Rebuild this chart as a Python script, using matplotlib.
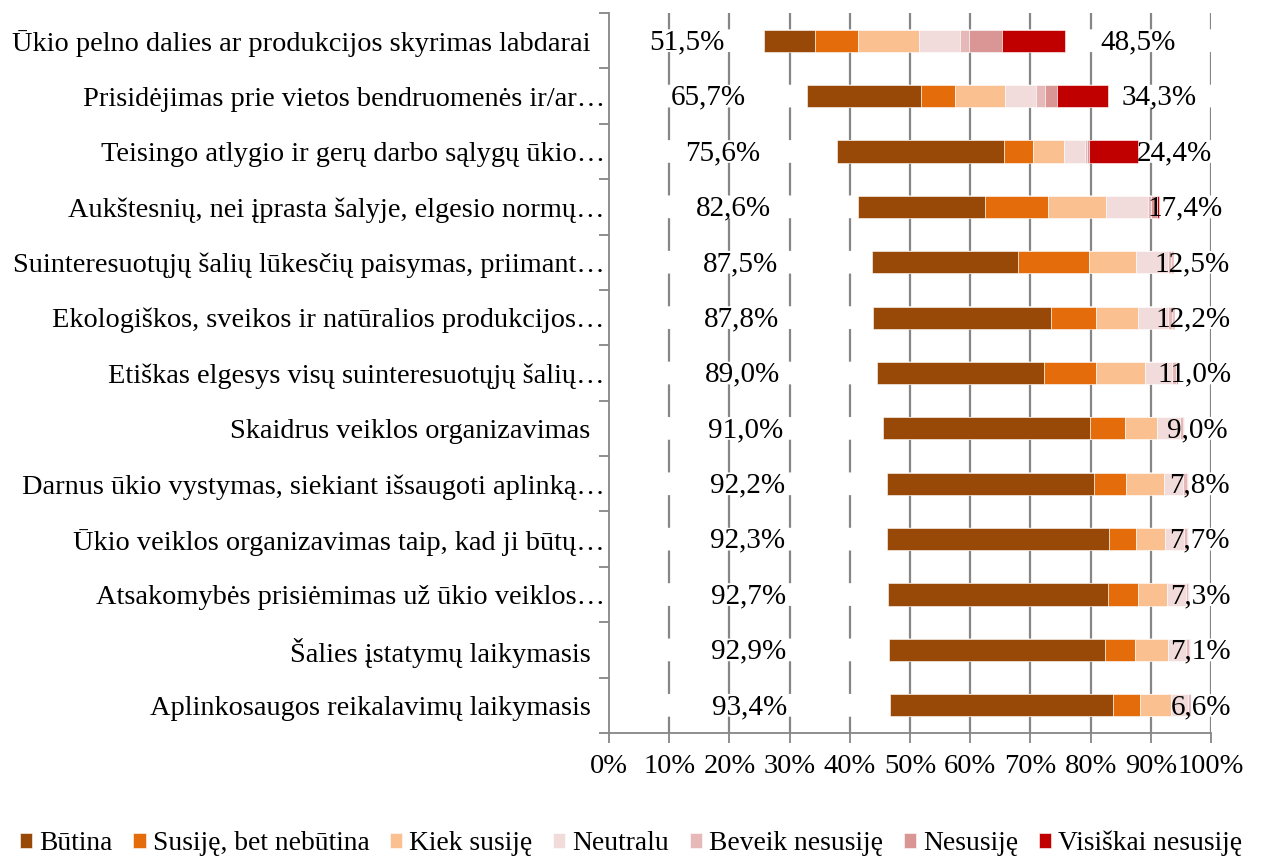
import numpy as np
import matplotlib.pyplot as plt

plt.rcParams['font.family'] = ['Liberation Serif', 'DejaVu Serif']
plt.rcParams['lines.scale_dashes'] = False

categories = [
    "Ūkio pelno dalies ar produkcijos skyrimas labdarai  ",
    "Prisidėjimas prie vietos bendruomenės ir/ar…",
    "Teisingo atlygio ir gerų darbo sąlygų ūkio…",
    "Aukštesnių, nei įprasta šalyje, elgesio normų…",
    "Suinteresuotųjų šalių lūkesčių paisymas, priimant…",
    "Ekologiškos, sveikos ir natūralios produkcijos…",
    "Etiškas elgesys visų suinteresuotųjų šalių…",
    "Skaidrus veiklos organizavimas  ",
    "Darnus ūkio vystymas, siekiant išsaugoti aplinką…",
    "Ūkio veiklos organizavimas taip, kad ji būtų…",
    "Atsakomybės prisiėmimas už ūkio veiklos…",
    "Šalies įstatymų laikymasis  ",
    "Aplinkosaugos reikalavimų laikymasis  ",
]

series_names = ["Būtina", "Susiję, bet nebūtina", "Kiek susiję", "Neutralu",
                "Beveik nesusiję", "Nesusiję", "Visiškai nesusiję"]
colors = ["#984807", "#E46C0A", "#FAC090", "#F2DCDB", "#E6B9B8", "#D99694", "#C00000"]

butina   = [17.0, 38.0, 55.6, 42.4, 48.5, 59.1, 55.5, 68.7, 68.8, 73.8, 73.1, 71.9, 74.0]
susije   = [14.2, 11.4,  9.7, 20.8, 23.6, 15.0, 17.2, 11.7, 10.9,  8.9,  9.9,  9.8,  8.9]
kiek     = [20.3, 16.3, 10.3, 19.4, 15.4, 13.7, 16.3, 10.6, 12.5,  9.6,  9.7, 11.2, 10.5]
neutralu = [13.5, 10.6,  6.9, 14.0, 10.6, 10.2,  9.1,  7.8,  6.4,  6.5,  6.4,  5.8,  5.5]
beveik   = [ 3.2,  2.9,  0.7,  0.9,  1.1,  1.1,  1.4,  1.0,  1.2,  1.0,  0.7,  1.0,  0.9]
nesusije = [10.8,  3.8,  0.7,  2.0,  0.5,  0.4,  0.5,  0.2,  0.2,  0.2,  0.2,  0.3,  0.2]
visiskai = [21.0, 17.0, 16.1,  0.5,  0.3,  0.5,  0.0,  0.0,  0.0,  0.0,  0.0,  0.0,  0.0]

left_pct  = [51.5, 65.7, 75.6, 82.6, 87.5, 87.8, 89.0, 91.0, 92.2, 92.3, 92.7, 92.9, 93.4]
right_pct = [48.5, 34.3, 24.4, 17.4, 12.5, 12.2, 11.0, 9.0, 7.8, 7.7, 7.3, 7.1, 6.6]

series = [butina, susije, kiek, neutralu, beveik, nesusije, visiskai]

# 100% stacked: invisible offset (= left share) + answers + invisible tail (= right share)
left_arr = np.array(left_pct)
right_arr = np.array(right_pct)
total = left_arr + 100 + right_arr
scale = 100.0 / total

n = len(categories)
y = np.arange(n)

fig = plt.figure(figsize=(12.62, 8.57), dpi=100)
ax = fig.add_axes([0.4826, 0.1447, 0.477, 0.8401])

ax.set_xlim(0, 100)
ax.set_ylim(n - 0.5, -0.5)

# dashed vertical gridlines, pattern starting at the top
row_pt = 720 / n * 0.72
dash = 0.59 * row_pt
gap = 0.41 * row_pt
for xv in range(10, 101, 10):
    ax.plot([xv, xv], [-0.5, n - 0.5], color="#868686", lw=1.6,
            linestyle=(dash / 2, (dash, gap)), zorder=0, solid_capstyle='butt',
            dash_capstyle='butt')

cum = left_arr * scale
for vals, name, col in zip(series, series_names, colors):
    w = np.array(vals) * scale
    ax.barh(y, w, left=cum, height=0.4, color=col, label=name,
            edgecolor='white', linewidth=0.4, zorder=2)
    cum = cum + w

for i in range(n):
    ax.text(left_arr[i] * scale[i] / 2, y[i] + 0.03, f"{left_pct[i]:.1f}%".replace('.', ','),
            ha='center', va='center', fontsize=21, zorder=3)
    ax.text(100 - right_arr[i] * scale[i] / 2, y[i] + 0.03, f"{right_pct[i]:.1f}%".replace('.', ','),
            ha='center', va='center', fontsize=21, zorder=3)

ax.set_yticks(y)
ax.set_yticklabels(categories, fontsize=20.4)
ax.set_yticks(np.arange(n + 1) - 0.5, minor=True)
ax.tick_params(axis='y', which='major', length=0, pad=3)
ax.tick_params(axis='y', which='minor', length=7, color="#868686", width=1.3)

ax.set_xticks(np.arange(0, 101, 10))
ax.set_xticklabels([f"{v}%" for v in range(0, 101, 10)], fontsize=20.5)
ax.tick_params(axis='x', length=7, color="#868686", width=1.3, pad=8)

for s in ['top', 'right']:
    ax.spines[s].set_visible(False)
for s in ['left', 'bottom']:
    ax.spines[s].set_color("#868686")
    ax.spines[s].set_linewidth(1.3)

fig.legend(loc='center', bbox_to_anchor=(0.5, 0.0155), ncol=7, frameon=False,
           fontsize=19.8, handlelength=0.45, handleheight=0.45, handletextpad=0.25,
           columnspacing=0.75, borderaxespad=0)

fig.savefig("out.png", dpi=100)
